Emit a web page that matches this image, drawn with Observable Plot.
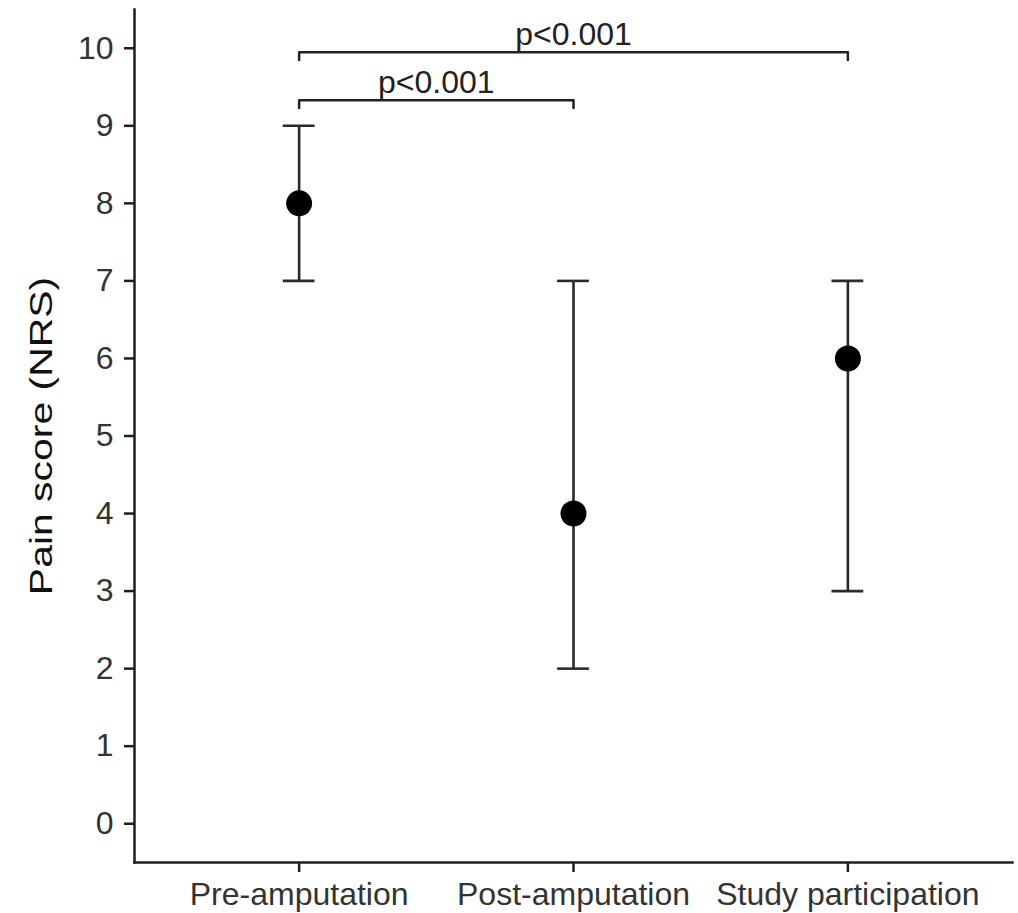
<!DOCTYPE html>
<html>
<head>
<meta charset="utf-8">
<script src="https://cdn.jsdelivr.net/npm/d3@7"></script>
<script src="https://cdn.jsdelivr.net/npm/@observablehq/plot@0.6"></script>
<style>
  body { margin: 0; background: #fff; }
  #chart svg { display: block; }
</style>
</head>
<body>
<div id="chart"></div>
<script>
// Pain scores (NRS) per phase: median with interquartile range
const phases = ["Pre-amputation", "Post-amputation", "Study participation"];
const medians = [8, 4, 6];
const lower = [7, 2, 3];
const upper = [9, 7, 7];
const yTicks = [0, 1, 2, 3, 4, 5, 6, 7, 8, 9, 10];
const yTitle = "Pain score (NRS)";

// Significance brackets between phases (1-based phase positions)
const bracketFrom = [1, 1];
const bracketTo = [2, 3];
const bracketLevel = [9.33, 9.95];
const bracketLabel = ["p<0.001", "p<0.001"];

const rows = phases.map((phase, i) => ({
  pos: i + 1, phase, median: medians[i], lo: lower[i], hi: upper[i]
}));

const capHalf = 0.058;   // half width of the error-bar caps, in phase units
const tipDrop = 0.1;     // length of the bracket end ticks, in NRS units

const bracketPath = bracketFrom.flatMap((from, k) => {
  const to = bracketTo[k], y = bracketLevel[k];
  return [[from, y - tipDrop], [from, y], [to, y], [to, y - tipDrop]]
    .map(([x, yy]) => ({k, x, y: yy}));
});
const bracketText = bracketFrom.map((from, k) => ({
  x: (from + bracketTo[k]) / 2, y: bracketLevel[k], label: bracketLabel[k]
}));

const font = "'Liberation Sans', Arial, Helvetica, sans-serif";
const axisColor = "#1f1f1f";
const textColor = "#333";

const chart = Plot.plot({
  width: 1018,
  height: 913,
  marginLeft: 134,
  marginRight: 6,
  marginTop: 9,
  marginBottom: 51,
  style: {fontFamily: font, background: "#fff", color: textColor},
  x: {domain: [0.4, 3.6]},
  y: {domain: [-0.5, 10.5]},
  marks: [
    Plot.frame({anchor: "left", stroke: axisColor, strokeWidth: 2.5}),
    Plot.frame({anchor: "bottom", stroke: axisColor, strokeWidth: 2.5}),
    Plot.axisY({
      ticks: yTicks, tickFormat: d => String(d),
      tickSize: 10, tickPadding: 11, fontSize: 32,
      stroke: axisColor, strokeWidth: 2.5, fill: textColor, label: null
    }),
    Plot.axisX({
      ticks: [1, 2, 3], tickFormat: d => phases[d - 1],
      tickSize: 10, tickPadding: 10, fontSize: 32,
      stroke: axisColor, strokeWidth: 2.5, fill: textColor, label: null
    }),
    Plot.text([yTitle], {
      frameAnchor: "left", textAnchor: "middle", rotate: -90, dx: -92,
      lineAnchor: "middle", fontSize: 31, fill: "#111"
    }),
    // error bars
    Plot.ruleX(rows, {x: "pos", y1: "lo", y2: "hi", stroke: "#2a2a2a", strokeWidth: 2.6}),
    Plot.ruleY(rows, {y: "lo", x1: d => d.pos - capHalf, x2: d => d.pos + capHalf, stroke: "#2a2a2a", strokeWidth: 2.6}),
    Plot.ruleY(rows, {y: "hi", x1: d => d.pos - capHalf, x2: d => d.pos + capHalf, stroke: "#2a2a2a", strokeWidth: 2.6}),
    // medians
    Plot.dot(rows, {x: "pos", y: "median", r: 13, fill: "#000", stroke: "none"}),
    // significance brackets
    Plot.line(bracketPath, {x: "x", y: "y", z: "k", stroke: "#222", strokeWidth: 2.5, curve: "linear"}),
    Plot.text(bracketText, {
      x: "x", y: "y", text: "label", lineAnchor: "bottom", dy: -7,
      fontSize: 32, fill: "#222"
    })
  ]
});

document.getElementById("chart").appendChild(chart);

// the axis title is set wide: stretch it along its baseline
d3.select(chart).selectAll("text")
  .filter(function () { return this.textContent === yTitle; })
  .attr("transform", function () {
    return (this.getAttribute("transform") || "") + " scale(1.32,1)";
  });
</script>
</body>
</html>
